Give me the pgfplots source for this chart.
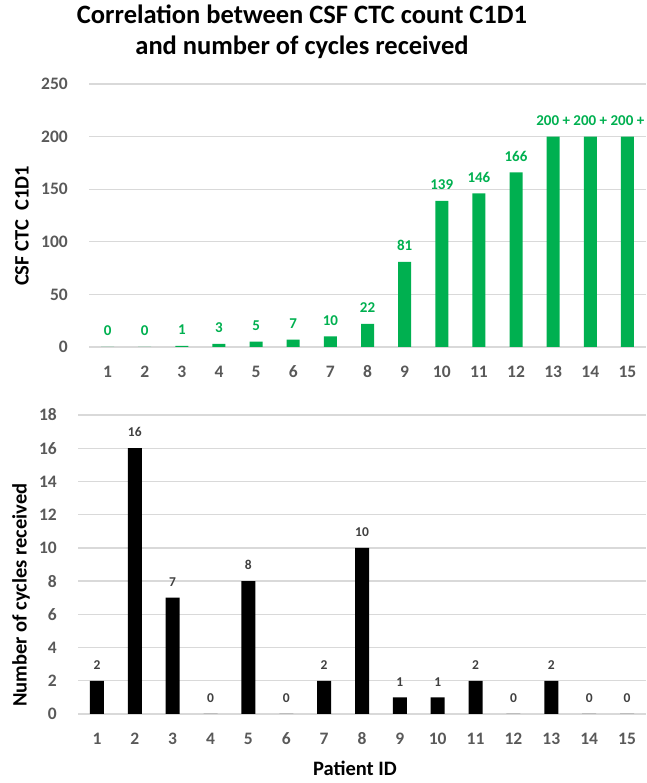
\documentclass[border=0pt]{standalone}
\usepackage{pgfplots}
\pgfplotsset{compat=1.18}
\usepackage{pgfplotstable}
\usepackage{fontspec}
\setmainfont{Carlito}
\definecolor{barGreen}{HTML}{00B050}
\definecolor{tickGray}{HTML}{595959}
\definecolor{gridGray}{HTML}{D9D9D9}
\definecolor{lblGray}{HTML}{404040}

\pgfplotstableread[col sep=comma]{
x,y,lab
1,0,0
2,0,0
3,1,1
4,3,3
5,5,5
6,7,7
7,10,10
8,22,22
9,81,81
10,139,139
11,146,146
12,166,166
13,200,200~+
14,200,200~+
15,200,200~+
}\ctc

\pgfplotstableread{
x y
1 2
2 16
3 7
4 0
5 8
6 0
7 2
8 10
9 1
10 1
11 2
12 0
13 2
14 0
15 0
}\cycles

\pgfplotsset{
  mystyle/.style={
    scale only axis,
    xmin=0.5, xmax=15.5,
    xtick={1,...,15},
    ymin=0,
    axis line style={draw=none},
    major tick length=0pt,
    ymajorgrids,
    grid style={gridGray, line width=1.3pt},
    /pgf/number format/assume math mode=true,
    ticklabel style={font=\fontsize{17.5}{21}\selectfont\bfseries, text=tickGray, inner sep=0pt},
    xticklabel style={anchor=center, yshift=-25pt},
    yticklabel style={anchor=east, xshift=-21pt},
    clip=false,
  }
}

\begin{document}
\begin{tikzpicture}
\useasboundingbox (0,0) rectangle (646pt,783pt);

% top panel
\begin{axis}[mystyle,
  at={(89pt,436pt)}, anchor=south west,
  width=557pt, height=263pt,
  ymax=250, ytick={0,50,...,250},
]
\addplot[ybar, bar width=13pt, bar shift=0pt, fill=barGreen, draw=none,
  point meta=explicit symbolic,
  nodes near coords,
  every node near coord/.append style={anchor=south, inner sep=0pt, yshift=11pt,
     font=\fontsize{15}{18}\selectfont\bfseries, text=barGreen}]
  table[x=x, y=y, meta=lab] {\ctc};
\end{axis}

% bottom panel
\begin{axis}[mystyle,
  at={(78pt,69pt)}, anchor=south west,
  width=568pt, height=299pt,
  ymax=18, ytick={0,2,...,18},
]
\addplot[ybar, bar width=14pt, bar shift=0pt, fill=black, draw=none,
  nodes near coords,
  every node near coord/.append style={anchor=south, inner sep=0pt, yshift=11pt,
     font=\fontsize{13.5}{16}\selectfont\bfseries, text=lblGray}]
  table[x=x, y=y] {\cycles};
\end{axis}

\node[align=center, font=\fontsize{26.5}{31}\selectfont\bfseries] at (302pt,751pt)
  {Correlation between CSF CTC count C1D1\\and number of cycles received};
\node[rotate=90, font=\fontsize{20.5}{24}\selectfont\bfseries] at (22pt,557pt) {CSF CTC\ \ C1D1};
\node[rotate=90, font=\fontsize{20.5}{24}\selectfont\bfseries] at (21pt,593pt-405pt) {Number of cycles received};
\node[font=\fontsize{20.5}{24}\selectfont\bfseries] at (355pt,15pt) {Patient ID};
\end{tikzpicture}
\end{document}
